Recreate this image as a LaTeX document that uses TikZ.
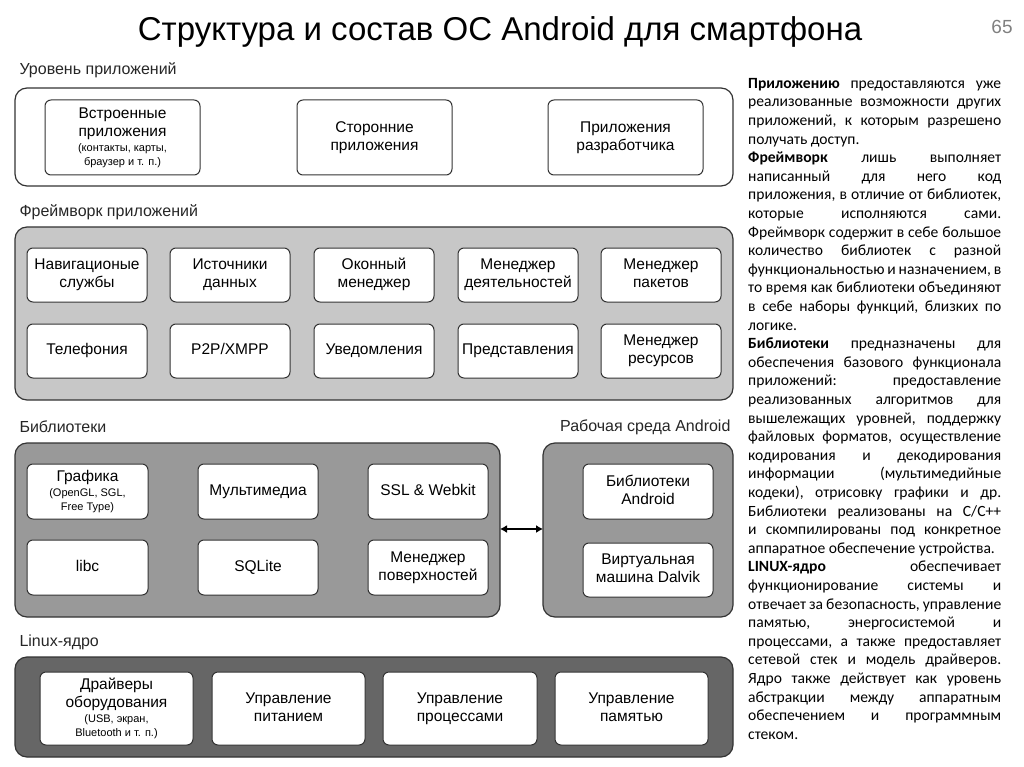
\documentclass[tikz,border=0pt]{standalone}
\usepackage{fontspec}
\setmainfont{Liberation Sans}
\newfontfamily\calfnt{Carlito}
\usetikzlibrary{arrows.meta}
\newcommand\bx[6]{\node[box,minimum width=#3-#1,minimum height=#4-#2] (#5) at ({(#1+#3)/2},{(#2+#4)/2}) {#6};}
\newcommand\sm[1]{{\fontsize{11}{12}\selectfont #1}}
\begin{document}
\begin{tikzpicture}[x=1pt,y=-1pt,
 panel/.style={draw=black!80,line width=1.2pt,rounded corners=12pt},
 box/.style={draw=black!80,line width=1pt,fill=white,rounded corners=6pt,align=center,font=\fontsize{15.5}{18}\selectfont,inner sep=1pt},
 lbl/.style={anchor=west,font=\fontsize{16}{18}\selectfont,text=black!85}]
\useasboundingbox (0,0) rectangle (1024,767);
\node (title) at (500,32) {\fontsize{33}{36}\selectfont Структура и состав ОС Android для смартфона};
\node[text=black!50] (pg) at (1002,27) {\fontsize{19}{20}\selectfont 65};
% panel 1
\node[lbl] (l1) at (16,70) {Уровень приложений};
\draw[panel,fill=white] (15,88) rectangle (733,186);
\bx{45}{100}{200}{175}{a1}{Встроенные\\приложения\\[-3pt]\sm{(контакты, карты,}\\[-4pt]\sm{браузер и т. п.)}}
\bx{297}{100}{452}{175}{a2}{Сторонние\\приложения}
\bx{548}{100}{703}{175}{a3}{Приложения\\разработчика}
% panel 2
\node[lbl] (l2) at (16,212) {Фреймворк приложений};
\draw[panel,fill=black!22] (15,227) rectangle (733,400);
\bx{27}{248}{147}{302}{f1}{Навигационые\strut\\службы\strut}
\bx{170}{248}{290}{302}{f2}{Источники\strut\\данных\strut}
\bx{314}{248}{434}{302}{f3}{Оконный\strut\\менеджер\strut}
\bx{458}{248}{578}{302}{f4}{Менеджер\strut\\деятельностей\strut}
\bx{601}{248}{721}{302}{f5}{Менеджер\strut\\пакетов\strut}
\bx{27}{324}{147}{378}{f6}{Телефония\strut}
\bx{170}{324}{290}{378}{f7}{P2P/XMPP\strut}
\bx{314}{324}{434}{378}{f8}{Уведомления\strut}
\bx{458}{324}{578}{378}{f9}{Представления\strut}
\bx{601}{324}{721}{378}{f10}{Менеджер\strut\\ресурсов\strut}
% panel 3
\node[lbl] (l3) at (16,427) {Библиотеки};
\node[lbl,anchor=east] (l4) at (734,427) {Рабочая среда Android};
\draw[panel,fill=black!40] (15,443) rectangle (500,617);
\draw[panel,fill=black!40] (543,443) rectangle (733,617);
\coordinate (pl) at (500,529); \coordinate (pr) at (543,529);
\draw[line width=1.3pt,{Latex[length=7pt,width=8pt]}-{Latex[length=7pt,width=8pt]}] (pl) -- (pr);
\bx{27}{464}{148}{519}{b1}{Графика\\[-3pt]\sm{(OpenGL, SGL,}\\[-4pt]\sm{Free Type)}}
\bx{198}{464}{318}{519}{b2}{Мультимедиа\strut}
\bx{368}{464}{488}{519}{b3}{SSL \& Webkit\strut}
\bx{27}{540}{148}{595}{b4}{libc\strut}
\bx{198}{540}{318}{595}{b5}{SQLite\strut}
\bx{368}{540}{488}{595}{b6}{Менеджер\strut\\поверхностей\strut}
\bx{583}{464}{713}{519}{r1}{Библиотеки\strut\\Android\strut}
\bx{583}{543}{713}{597}{r2}{Виртуальная\strut\\машина Dalvik\strut}
% panel 4
\node[lbl] (l5) at (16,642) {Linux-ядро};
\draw[panel,fill=black!60] (15,657) rectangle (733,757);
\bx{40}{672}{193}{745}{k1}{Драйверы\\оборудования\\[-3pt]\sm{(USB, экран,}\\[-4pt]\sm{Bluetooth и т. п.)}}
\bx{212}{672}{365}{745}{k2}{Управление\strut\\питанием\strut}
\bx{383}{672}{537}{745}{k3}{Управление\strut\\процессами\strut}
\bx{555}{672}{708}{745}{k4}{Управление\strut\\памятью\strut}
% text
\node[anchor=north west,inner sep=0pt] (txt) at (748,78) {\parbox{253pt}{\calfnt\fontsize{15.6}{18.6}\selectfont\frenchspacing\emergencystretch=2em
\textbf{Приложению} предоставляются уже реализованные возможности других приложений, к которым разрешено получать доступ.\par
\textbf{Фреймворк} лишь выполняет написанный для него код приложения, в отличие от библиотек, которые исполняются сами. Фреймворк содержит в себе большое количество библиотек с разной функциональностью и назначением, в то время как библиотеки объединяют в себе наборы функций, близких по логике.\par
\textbf{Библиотеки} предназначены для обеспечения базового функционала приложений: предоставление реализованных алгоритмов для вышележащих уровней, поддержку файловых форматов, осуществление кодирования и декодирования информации (мультимедийные кодеки), отрисовку графики и др. Библиотеки реализованы на C/C++ и скомпилированы под конкретное аппаратное обеспечение устройства.\par
\textbf{LINUX-ядро} обеспечивает функционирование системы и отвечает за безопасность, управление памятью, энергосистемой и процессами, а также предоставляет сетевой стек и модель драйверов. Ядро также действует как уровень абстракции между аппаратным обеспечением и программным стеком.}};
\end{tikzpicture}
\end{document}
